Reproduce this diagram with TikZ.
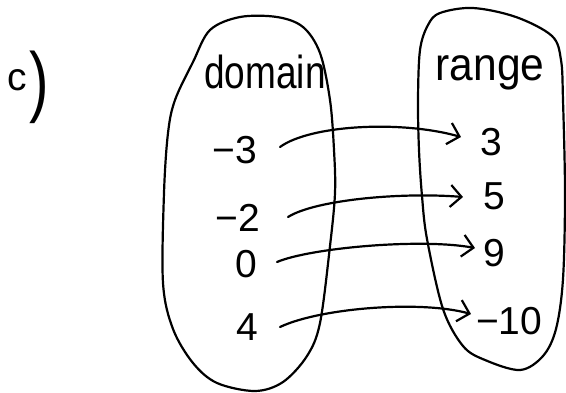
\documentclass[tikz,border=0pt]{standalone}
\usepackage{fontspec}
\setmainfont{Liberation Sans}
\usepackage{graphicx}
\usetikzlibrary{arrows.meta}
\tikzset{
  pen/.style={line width=2.2pt, line cap=round, line join=round},
  oval/.style={pen},
  mapto/.style={pen, -{Straight Barb[length=11pt,width=22pt,line width=2.2pt]}},
  word/.style={inner sep=0pt, font=\fontsize{37}{40}\selectfont},
  val/.style={inner sep=0pt, font=\fontsize{39}{42}\selectfont},
}
\begin{document}
\begin{tikzpicture}[x=1pt,y=-1pt]
\useasboundingbox (0,0) rectangle (566,392);
% label
\node[val, anchor=base west] (lab) at (7,90) {c\kern3pt\raisebox{-17pt}{\scalebox{1.5}[2]{)}}};
% ovals
\draw[oval] plot[smooth cycle, tension=0.55] coordinates {
 (240,17) (277,17) (303,27) (320,53) (330,100) (334,150) (335,193) (330,246)
 (320,323) (307,356) (283,382) (255,391) (217,383) (193,363) (173,329)
 (163,283) (164,193) (168,133) (175,100) (193,62) (210,30)};
\draw[oval] plot[smooth cycle, tension=0.55] coordinates {
 (440,13) (473,8) (516,17) (552,36) (561,60) (563,100) (565,193) (563,279)
 (556,329) (543,356) (520,370) (485,360) (463,346) (443,309) (427,239)
 (422,196) (419,150) (418,100) (420,50) (428,25)};
% titles
\node[word, anchor=base] (dom) at (265,88) {\scalebox{1}[1.25]{domain}};
\node[word, anchor=base] (ran) at (490,80) {\scalebox{1.15}[1.25]{range}};
% domain values
\node[val, anchor=east] (d1) at (257,150) {−3};
\node[val, anchor=east] (d2) at (260,218) {−2};
\node[val, anchor=east] (d3) at (257,264) {0};
\node[val, anchor=east] (d4) at (258,327) {4};
% range values
\node[val, anchor=west] (r1) at (480,142) {3};
\node[val, anchor=west] (r2) at (483,196) {5};
\node[val, anchor=west] (r3) at (483,253) {9};
\node[val, anchor=west] (r4) at (476,321) {−10};
% mapping arrows
\draw[mapto] ([shift={(23,-3)}]d1.east) .. controls +(30,-22) and +(-60,-17) .. ([shift={(-19,-5)}]r1.west);
\draw[mapto] ([shift={(28,-1)}]d2.east) .. controls +(27,-17) and +(-63,-5) .. ([shift={(-20,1)}]r2.west);
\draw[mapto] ([shift={(20,-2)}]d3.east) .. controls +(33,-14) and +(-55,-10) .. ([shift={(-8,-5)}]r3.west);
\draw[mapto] ([shift={(22,0)}]d4.east) .. controls +(40,-19) and +(-51,-14) .. ([shift={(-5,-7)}]r4.west);
\end{tikzpicture}
\end{document}
